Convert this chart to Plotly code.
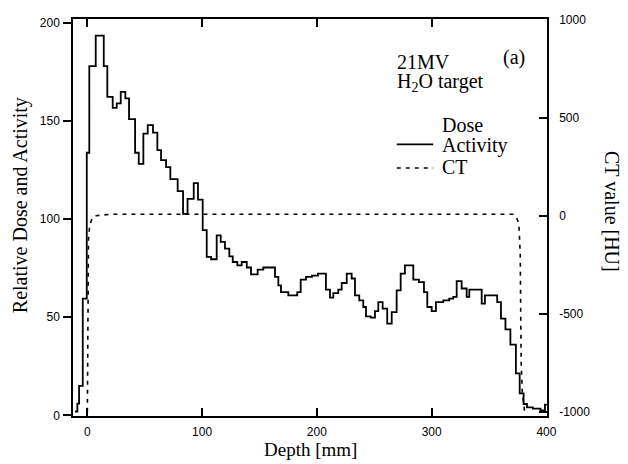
import plotly.graph_objects as go

# ---- data ----
depth_mm = [-10.7, -8.7, -7.2, -4.0, -0.5, 1.7, 7.3, 14.3, 17.4, 22.1, 25.6, 29.1, 33.1, 36.3,
            41.6, 44.8, 48.8, 52.6, 57.2, 61.0, 64.2, 68.6, 72.3, 78.7, 83.4, 87.3, 92.7, 96.4,
            100.5, 104.0, 107.8, 112.7, 116.2, 119.9, 123.7, 126.7, 130.7, 134.5, 138.9, 142.6,
            148.4, 153.3, 163.5, 166.4, 168.7, 175.1, 182.9, 185.9, 190.5, 195.7, 200.9, 207.9,
            211.4, 214.3, 218.6, 221.6, 226.0, 230.3, 233.2, 236.9, 240.4, 242.8, 246.9, 250.6,
            253.5, 257.3, 261.3, 265.2, 269.5, 273.0, 276.7, 284.0, 288.9, 293.3, 296.2, 300.0,
            303.7, 310.1, 315.3, 318.8, 321.8, 326.1, 330.5, 332.8, 343.6, 346.4, 357.1, 360.4,
            364.3, 368.6, 373.4, 376.7, 380.1, 383.0, 388.2, 394.8, 398.7, 400.4]
activity = [2.0, 6.0, 15.0, 59.5, 133.7, 177.8, 193.3, 177.8, 162.2, 156.6, 158.8, 164.7, 161.4, 150.8,
            133.7, 128.0, 143.4, 147.8, 144.0, 135.0, 130.0, 126.4, 120.3, 114.2, 102.6, 110.2, 118.3, 109.8,
            94.3, 80.7, 79.5, 91.7, 88.3, 84.9, 81.0, 78.1, 76.4, 78.1, 75.3, 71.8,
            74.2, 75.3, 70.5, 66.2, 62.8, 61.1, 62.8, 69.1, 70.5, 71.2, 72.2, 64.0,
            60.0, 62.3, 64.0, 67.4, 72.2, 69.7, 61.1, 58.6, 55.2, 50.4, 49.8, 53.1,
            57.7, 54.4, 46.7, 52.6, 63.7, 72.2, 76.4, 69.1, 67.9, 62.8, 55.2, 53.1,
            57.7, 58.6, 59.5, 60.3, 68.4, 64.6, 60.3, 64.0, 56.9, 61.1, 57.7, 49.3,
            43.8, 36.0, 21.4, 11.2, 5.8, 4.1, 3.5, 2.5, 5.5, 5.5]

ct_depth = [0.0, 0.3, 0.6, 1.0, 2.0, 4.0, 7.0, 20.0, 371.0, 374.0, 376.0, 377.2, 377.6, 378.0, 379.0, 380.0, 381.0]
ct_hu = [-1000, -700, -300, -120, -50, -15, 0, 8, 8, -10, -40, -200, -500, -750, -900, -960, -1000]

x_ticks = [0, 100, 200, 300, 400]
y_ticks = [0, 50, 100, 150, 200]
y2_ticks = [-1000, -500, 0, 500, 1000]
y2_labels = ["-1000", "-500", "0", "500", "1000"]

# ---- figure ----
serif = "Liberation Serif"
sans = "Liberation Sans"

fig = go.Figure()
fig.add_trace(go.Scatter(x=depth_mm, y=activity, mode="lines", line_shape="hv",
                         line=dict(color="black", width=1.8), name="Activity",
                         showlegend=False))
fig.add_trace(go.Scatter(x=ct_depth, y=ct_hu, mode="lines", yaxis="y2",
                         line=dict(color="black", width=1.6, dash="4px,5px"), name="CT",
                         showlegend=False))

axis_common = dict(showgrid=False, zeroline=False, showline=True, linecolor="black",
                   linewidth=1.5, tickcolor="black", tickwidth=1.5, ticklen=8,
                   automargin=False,
                   tickfont=dict(family=sans, size=12, color="black"))

# the page body adds an 8px offset, so the figure is 8px smaller on each side
fig.update_layout(
    width=620, height=456,
    margin=dict(l=65, r=81, t=11, b=48),
    paper_bgcolor="white", plot_bgcolor="white",
    xaxis=dict(range=[-12.5, 400.5], tickvals=x_ticks, ticks="inside", mirror="ticks",
               ticklabelstandoff=4, **axis_common),
    yaxis=dict(range=[-0.3, 201.8], tickvals=y_ticks, ticks="outside",
               ticklabelstandoff=1, **axis_common),
    yaxis2=dict(range=[-1022, 1005], tickvals=y2_ticks, ticktext=y2_labels, overlaying="y",
                side="right", ticks="inside", ticklabelstandoff=8, **axis_common),
    showlegend=False,
)

def ann(text, x, y, size=20, xanchor="left", angle=0):
    fig.add_annotation(text=text, x=x, y=y, xref="paper", yref="paper", showarrow=False,
                       xanchor=xanchor, yanchor="middle", textangle=angle, borderpad=0,
                       font=dict(family=serif, size=size, color="black"))

# axis titles
ann("Depth [mm]", 0.5, -0.0856, size=19, xanchor="center")
ann("Relative Dose and Activity", -0.1118, 0.531, size=20, xanchor="center", angle=-90)
ann("CT value [HU]", 1.137, 0.514, size=20, xanchor="center", angle=90)

# in-plot labels
ann("21MV", 0.681, 0.8924)
ann("H<sub>2</sub>O target", 0.681, 0.8388)
ann("(a)", 0.905, 0.904)
ann("Dose", 0.776, 0.733)
ann("Activity", 0.776, 0.6826)
ann("CT", 0.776, 0.628)

# legend line samples
fig.add_shape(type="line", xref="paper", yref="paper", x0=0.683, x1=0.760, y0=0.684, y1=0.684,
              line=dict(color="black", width=1.8))
fig.add_shape(type="line", xref="paper", yref="paper", x0=0.683, x1=0.760, y0=0.6247, y1=0.6247,
              line=dict(color="black", width=1.6, dash="4px,5px"))

fig.write_html("out.html")
